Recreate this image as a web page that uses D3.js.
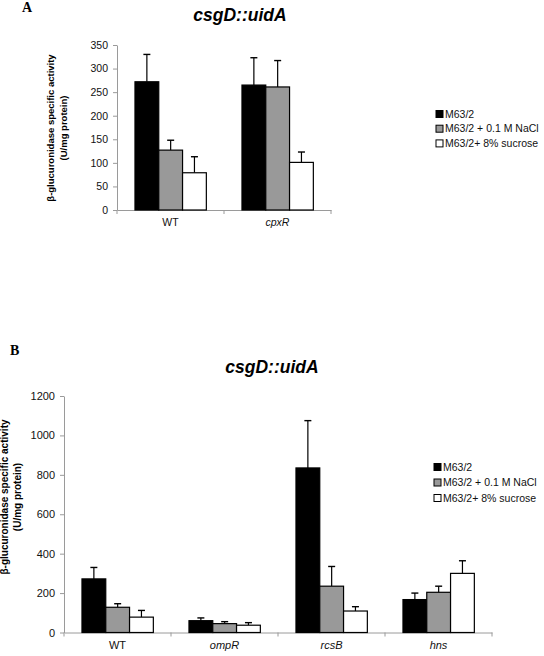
<!DOCTYPE html>
<html>
<head>
<meta charset="utf-8">
<script src="https://cdn.jsdelivr.net/npm/d3@7"></script>
<style>
  html, body { margin: 0; padding: 0; background: #fff; }
  svg { display: block; font-family: "Liberation Sans", Arial, sans-serif; }
</style>
</head>
<body>
<svg id="chart" width="544" height="656"></svg>
<script>
// ---------- data ----------
const seriesNames = ["M63/2", "M63/2 + 0.1 M NaCl", "M63/2+ 8% sucrose"];
const seriesColors = ["#000000", "#999999", "#ffffff"];

// Panel A
const catsA = ["WT", "cpxR"];
const catsAItalic = [false, true];
const m63A = [272, 265];
const m63AErr = [58, 58];
const naclA = [127, 261];
const naclAErr = [21, 56];
const sucA = [79, 101];
const sucAErr = [34, 22];
const ticksA = [0, 50, 100, 150, 200, 250, 300, 350];

// Panel B
const catsB = ["WT", "ompR", "rcsB", "hns"];
const catsBItalic = [false, true, true, true];
const m63B = [272, 60, 835, 167];
const m63BErr = [58, 14, 240, 33];
const naclB = [128, 45, 235, 204];
const naclBErr = [18, 10, 100, 31];
const sucB = [78, 37, 109, 300];
const sucBErr = [34, 13, 22, 64];
const ticksB = [0, 200, 400, 600, 800, 1000, 1200];

const titleText = "csgD::uidA";
const yLabel1 = "β-glucuronidase specific activity";
const yLabel2 = "(U/mg protein)";

const svg = d3.select("#chart");

function drawPanel(cfg) {
  const g = svg.append("g");
  const x0 = d3.scaleBand().domain(cfg.cats).range([cfg.left, cfg.right]).padding(0);
  const bw = x0.bandwidth();
  const x1 = d3.scaleBand().domain(seriesNames).range([bw * 0.168, bw * 0.835]).padding(0);
  const y = d3.scaleLinear().domain([0, cfg.ymax]).range([cfg.bottom, cfg.top]);

  // y axis
  const yAxis = d3.axisLeft(y).tickValues(cfg.ticks).tickFormat(d3.format("d"))
    .tickSize(4).tickSizeOuter(0).tickPadding(5);
  const ya = g.append("g").attr("transform", `translate(${cfg.left},0)`).call(yAxis);
  ya.select(".domain").attr("stroke", "#9a9a9a").attr("stroke-width", 1);
  ya.selectAll(".tick line").attr("stroke", "#9a9a9a");
  ya.selectAll(".tick text").attr("font-size", cfg.tickFont).attr("fill", "#111")
    .attr("font-family", "Liberation Sans, Arial, sans-serif");

  // x axis line
  const xa = g.append("g").attr("transform", `translate(0,${cfg.bottom})`)
    .call(d3.axisBottom(x0).tickSize(0).tickSizeOuter(0).tickPadding(9));
  xa.select(".domain").attr("stroke", "#9a9a9a").attr("stroke-width", 1);
  xa.selectAll(".tick text").attr("font-size", cfg.catFont).attr("fill", "#111")
    .attr("font-family", "Liberation Sans, Arial, sans-serif")
    .attr("font-style", (d, i) => cfg.italic[i] ? "italic" : "normal");
  // boundary tick marks
  const bounds = cfg.cats.map(c => x0(c)).concat([cfg.right]);
  g.selectAll(".btick").data(bounds).enter().append("line")
    .attr("x1", d => d).attr("x2", d => d)
    .attr("y1", cfg.bottom).attr("y2", cfg.bottom + 4)
    .attr("stroke", "#9a9a9a");

  // bars
  const rows = [];
  cfg.cats.forEach((c, i) => {
    cfg.values.forEach((vals, s) => {
      rows.push({ cat: c, s: s, v: vals[i], e: cfg.errors[s][i] });
    });
  });
  const groups = g.selectAll(".bar").data(rows).enter().append("g");
  // error bars (upper only)
  groups.append("line")
    .attr("x1", d => x0(d.cat) + x1(seriesNames[d.s]) + x1.bandwidth() / 2)
    .attr("x2", d => x0(d.cat) + x1(seriesNames[d.s]) + x1.bandwidth() / 2)
    .attr("y1", d => y(d.v)).attr("y2", d => y(d.v + d.e))
    .attr("stroke", "#000").attr("stroke-width", 1.2);
  groups.append("line")
    .attr("x1", d => x0(d.cat) + x1(seriesNames[d.s]) + x1.bandwidth() / 2 - 3.5)
    .attr("x2", d => x0(d.cat) + x1(seriesNames[d.s]) + x1.bandwidth() / 2 + 3.5)
    .attr("y1", d => y(d.v + d.e)).attr("y2", d => y(d.v + d.e))
    .attr("stroke", "#000").attr("stroke-width", 1.4);
  groups.append("rect")
    .attr("x", d => x0(d.cat) + x1(seriesNames[d.s]))
    .attr("width", x1.bandwidth())
    .attr("y", d => y(d.v))
    .attr("height", d => y(0) - y(d.v))
    .attr("fill", d => seriesColors[d.s])
    .attr("stroke", "#000").attr("stroke-width", 1.2);

  // title
  g.append("text").attr("x", cfg.titleX).attr("y", cfg.titleY)
    .attr("text-anchor", "middle").attr("font-size", 17.5)
    .attr("font-weight", "bold").attr("font-style", "italic")
    .text(titleText);

  // panel letter
  g.append("text").attr("x", cfg.letterX).attr("y", cfg.letterY)
    .attr("font-family", "Liberation Serif, Times New Roman, serif")
    .attr("font-size", 14).attr("font-weight", "bold").text(cfg.letter);

  // y label
  const yl = g.append("text")
    .attr("transform", `translate(${cfg.ylabX},${cfg.ylabY}) rotate(-90)`)
    .attr("text-anchor", "middle").attr("font-weight", "bold")
    .attr("font-size", cfg.ylabFont);
  yl.append("tspan").attr("x", 0).attr("dy", 0).text(yLabel1);
  yl.append("tspan").attr("x", 0).attr("dy", cfg.ylabGap).text(yLabel2);

  // legend
  const lg = g.selectAll(".leg").data(seriesNames).enter().append("g")
    .attr("transform", (d, i) => `translate(${cfg.legX},${cfg.legY + i * cfg.legGap})`);
  lg.append("rect").attr("x", 0).attr("y", -3.5).attr("width", 7).attr("height", 7)
    .attr("fill", (d, i) => seriesColors[i]).attr("stroke", "#000").attr("stroke-width", 1);
  lg.append("text").attr("x", 9).attr("y", 0).attr("dy", "0.35em")
    .attr("font-size", 10.5).attr("fill", "#111").text(d => d);
}

drawPanel({
  cats: catsA, italic: catsAItalic,
  values: [m63A, naclA, sucA], errors: [m63AErr, naclAErr, sucAErr],
  ticks: ticksA, ymax: 350,
  left: 117, right: 331, top: 45, bottom: 210,
  tickFont: 10.5, catFont: 10.5,
  titleX: 240, titleY: 21,
  letter: "A", letterX: 22, letterY: 12,
  ylabX: 54, ylabY: 128, ylabFont: 9.5, ylabGap: 13,
  legX: 436, legY: 114, legGap: 14.7
});

drawPanel({
  cats: catsB, italic: catsBItalic,
  values: [m63B, naclB, sucB], errors: [m63BErr, naclBErr, sucBErr],
  ticks: ticksB, ymax: 1200,
  left: 64, right: 492, top: 396, bottom: 632.5,
  tickFont: 11, catFont: 11,
  titleX: 272, titleY: 373,
  letter: "B", letterX: 10, letterY: 355,
  ylabX: 8, ylabY: 497, ylabFont: 10, ylabGap: 13,
  legX: 434, legY: 467, legGap: 15.5
});
</script>
</body>
</html>
